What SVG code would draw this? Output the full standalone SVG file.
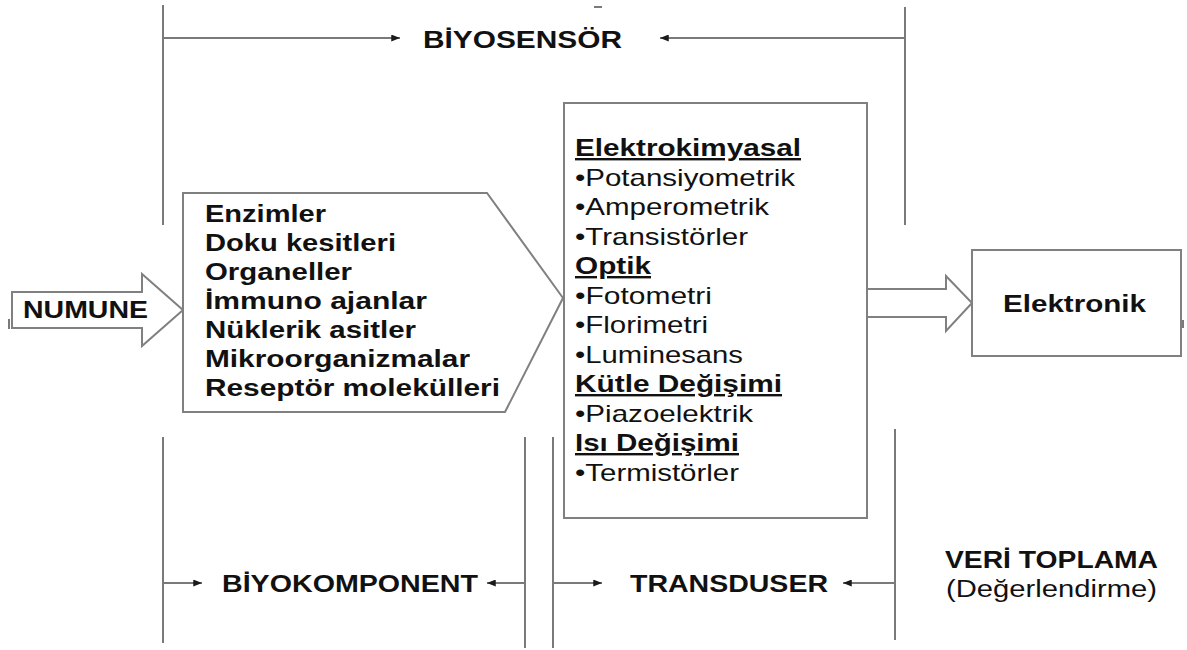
<svg xmlns="http://www.w3.org/2000/svg" width="1187" height="650" viewBox="0 0 1187 650">
<defs>
<marker id="ah" viewBox="0 0 10 8" refX="10" refY="4" markerWidth="9" markerHeight="7" markerUnits="userSpaceOnUse" orient="auto">
<path d="M0,0 L10,4 L0,8 Z" fill="#1a1a1a"/>
</marker>
<style>
.ln{stroke:#7a7a7a;stroke-width:2;fill:none}
.arr{stroke:#7a7a7a;stroke-width:1.8;fill:none;marker-end:url(#ah)}
.shape{fill:#fff;stroke:#808080;stroke-width:2}
.t{font-family:"Liberation Sans",Arial,sans-serif;fill:#111}
.b{font-weight:bold}
.u{text-decoration:underline}
</style>
</defs>
<rect width="1187" height="650" fill="#fff"/>

<g id="connectors">
<line class="ln" x1="163" y1="5" x2="163" y2="225"/>
<line class="arr" x1="163" y1="38" x2="400" y2="38"/>
<line class="ln" x1="905" y1="7" x2="905" y2="225"/>
<line class="arr" x1="905" y1="38" x2="660" y2="38"/>
<line class="ln" x1="163" y1="437" x2="163" y2="643"/>
<line class="arr" x1="163" y1="583" x2="202" y2="583"/>
<line class="ln" x1="525" y1="437" x2="525" y2="648"/>
<line class="arr" x1="525" y1="583" x2="487" y2="583"/>
<line class="ln" x1="553" y1="437" x2="553" y2="648"/>
<line class="arr" x1="553" y1="583" x2="602" y2="583"/>
<line class="ln" x1="895" y1="429" x2="895" y2="640"/>
<line class="arr" x1="895" y1="583" x2="843" y2="583"/>
<line class="ln" x1="594" y1="7" x2="602" y2="7" stroke-width="1.5"/>
<line class="ln" x1="9" y1="319" x2="9" y2="329" stroke-width="2"/>
<line class="ln" x1="1183" y1="320" x2="1183" y2="328" stroke-width="3"/>
</g>

<g id="labels">
<text class="t b" x="423" y="48" font-size="24" textLength="199" lengthAdjust="spacingAndGlyphs">BİYOSENSÖR</text>
<text class="t b" x="222" y="592" font-size="24" textLength="256" lengthAdjust="spacingAndGlyphs">BİYOKOMPONENT</text>
<text class="t b" x="630" y="592" font-size="24" textLength="198" lengthAdjust="spacingAndGlyphs">TRANSDUSER</text>
</g>

<g id="numune">
<polygon class="shape" points="12,292 142,292 142,274 183,310 142,346 142,328 12,328"/>
<text class="t b" x="23" y="318" font-size="23" textLength="125" lengthAdjust="spacingAndGlyphs">NUMUNE</text>
</g>

<g id="biyokomponent">
<polygon class="shape" points="183,193 487,193 563,298 505,412 183,412"/>
<g class="t b" font-size="23">
<text x="205" y="222" textLength="121" lengthAdjust="spacingAndGlyphs">Enzimler</text>
<text x="205" y="251" textLength="191" lengthAdjust="spacingAndGlyphs">Doku kesitleri</text>
<text x="205" y="280" textLength="147" lengthAdjust="spacingAndGlyphs">Organeller</text>
<text x="205" y="309" textLength="222" lengthAdjust="spacingAndGlyphs">İmmuno ajanlar</text>
<text x="205" y="338" textLength="211" lengthAdjust="spacingAndGlyphs">Nüklerik asitler</text>
<text x="205" y="367" textLength="265" lengthAdjust="spacingAndGlyphs">Mikroorganizmalar</text>
<text x="205" y="396" textLength="295" lengthAdjust="spacingAndGlyphs">Reseptör molekülleri</text>
</g>
</g>

<g id="transduser">
<rect class="shape" x="564" y="103" width="303" height="415"/>
<g class="t" font-size="24">
<text class="b u" x="575" y="156" textLength="226" lengthAdjust="spacingAndGlyphs">Elektrokimyasal</text>
<text x="575" y="185.5" textLength="220" lengthAdjust="spacingAndGlyphs">•Potansiyometrik</text>
<text x="575" y="215" textLength="194" lengthAdjust="spacingAndGlyphs">•Amperometrik</text>
<text x="575" y="244.5" textLength="173" lengthAdjust="spacingAndGlyphs">•Transistörler</text>
<text class="b u" x="575" y="274" textLength="76" lengthAdjust="spacingAndGlyphs">Optik</text>
<text x="575" y="303.5" textLength="137" lengthAdjust="spacingAndGlyphs">•Fotometri</text>
<text x="575" y="333" textLength="133" lengthAdjust="spacingAndGlyphs">•Florimetri</text>
<text x="575" y="362.5" textLength="168" lengthAdjust="spacingAndGlyphs">•Luminesans</text>
<text class="b u" x="575" y="392" textLength="207" lengthAdjust="spacingAndGlyphs">Kütle Değişimi</text>
<text x="575" y="421.5" textLength="178" lengthAdjust="spacingAndGlyphs">•Piazoelektrik</text>
<text class="b u" x="575" y="451" textLength="164" lengthAdjust="spacingAndGlyphs">Isı Değişimi</text>
<text x="575" y="480.5" textLength="164" lengthAdjust="spacingAndGlyphs">•Termistörler</text>
</g>
</g>

<g id="signal-arrow">
<polygon class="shape" points="867,289 946,289 946,276 972,303 946,331 946,317 867,317"/>
</g>

<g id="elektronik">
<rect class="shape" x="972" y="250" width="209" height="106"/>
<text class="t b" x="1003" y="312" font-size="24" textLength="143" lengthAdjust="spacingAndGlyphs">Elektronik</text>
</g>

<g id="veri-toplama">
<text class="t b" x="945" y="568" font-size="24" textLength="213" lengthAdjust="spacingAndGlyphs">VERİ TOPLAMA</text>
<text class="t" x="946" y="597" font-size="23" textLength="211" lengthAdjust="spacingAndGlyphs">(Değerlendirme)</text>
</g>
</svg>
